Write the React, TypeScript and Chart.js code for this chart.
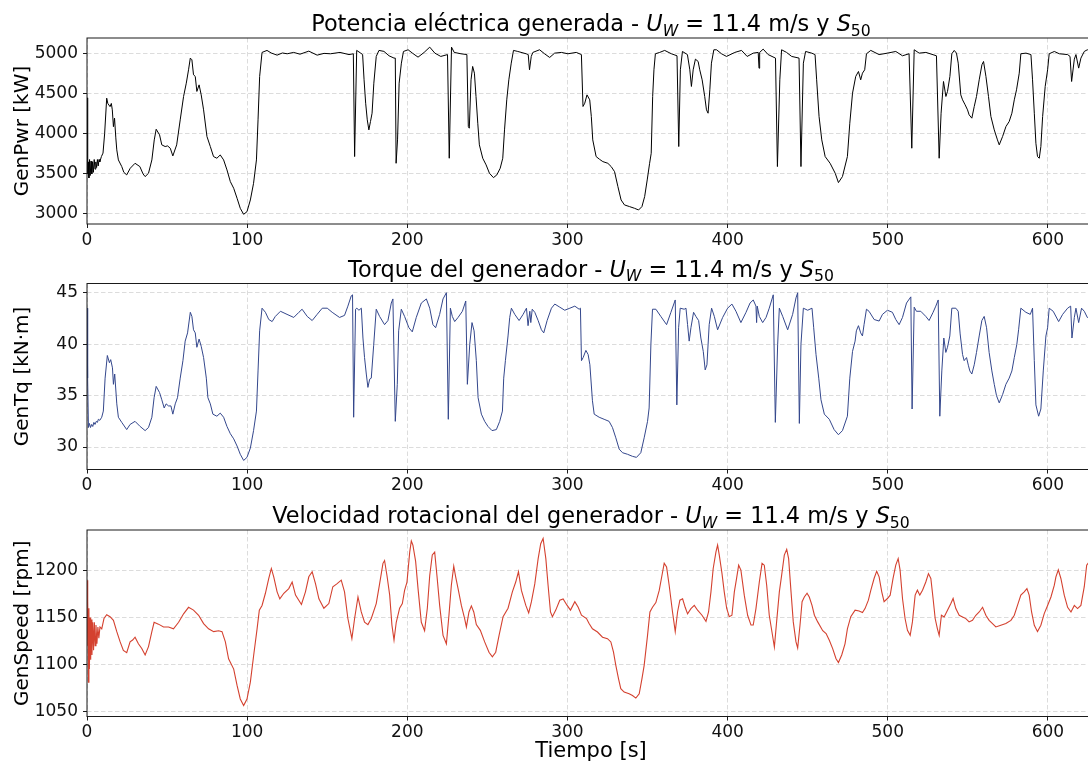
import React, { useEffect, useRef } from 'react';
import { Chart, registerables } from 'chart.js';

Chart.register(...registerables);

// ---------------- data ----------------
const xTicks = [0, 100, 200, 300, 400, 500, 600];
const powerTicks = [3000, 3500, 4000, 4500, 5000];
const torqueTicks = [30, 35, 40, 45];
const speedTicks = [1050, 1100, 1150, 1200];

const windLabel = ' = 11.4 m/s y ';
const powerTitle = 'Potencia eléctrica generada';
const torqueTitle = 'Torque del generador';
const speedTitle = 'Velocidad rotacional del generador';
const powerLabel = 'GenPwr [kW]';
const torqueLabel = 'GenTq [kN·m]';
const speedLabel = 'GenSpeed [rpm]';
const timeLabel = 'Tiempo [s]';

// [time s, power kW]
const powerSeries: [number, number][] = [
  [0, 4450], [0.4, 3500], [0.8, 3650], [1.2, 3450], [1.6, 3680], [2, 3480], [2.5, 3660], [3, 3500], [3.5, 3650], [4, 3520],
  [4.5, 3680], [5, 3560], [5.5, 3650], [6, 3580], [6.5, 3680], [7, 3600], [7.5, 3680], [8, 3650], [9, 3717], [10, 3760],
  [11, 4000], [12.3, 4446], [13, 4380], [14.4, 4340], [15.2, 4380], [15.8, 4300], [16.5, 4090], [17.2, 4196], [18, 3950], [18.6, 3800],
  [19.6, 3675], [21.7, 3592], [23, 3520], [24.8, 3488], [27, 3571], [30, 3633], [33, 3592], [35, 3500], [36.3, 3467], [38.4, 3508],
  [40.5, 3675], [42, 3925], [43.2, 4058], [45.3, 3988], [46.7, 3863], [48.8, 3842], [50.3, 3850], [52, 3821], [53.6, 3725], [56, 3863],
  [58.2, 4175], [60.3, 4467], [62, 4633], [63.4, 4800], [64.5, 4946], [65.5, 4925], [66.5, 4738], [67.6, 4717], [68.6, 4530], [70, 4612],
  [71.3, 4487], [72.8, 4300], [74.9, 3967], [77, 3842], [79, 3717], [81.1, 3696], [83.2, 3737], [85.3, 3675], [87.4, 3550], [89.5, 3404],
  [91.6, 3321], [93.7, 3196], [95.7, 3071], [97.8, 2996], [99.9, 3029], [102, 3175], [104, 3383], [105.8, 3675], [106.8, 4175], [107.8, 4717],
  [109.3, 5017], [112.4, 5042], [115, 5010], [118.7, 4983], [122, 5010], [125, 5000], [129, 5017], [133, 4995], [138.5, 5033], [143.7, 4983],
  [148, 5005], [152, 5000], [158, 5017], [163.6, 4990], [166.3, 5000], [167.1, 3717], [168.4, 5042], [170.9, 5008], [172.1, 4990], [173, 4675],
  [174, 4383], [175, 4175], [176, 4050], [177, 4154], [178, 4258], [179.1, 4633], [180.6, 4967], [182.3, 5042], [185.4, 5030], [188.6, 4975],
  [191.7, 4946], [192.5, 4946], [193, 3633], [193.9, 3925], [194.9, 4633], [196.3, 4883], [197.6, 5029], [200.5, 5050], [203.2, 5008], [206.7, 4958],
  [210.5, 5017], [214, 5083], [217.2, 5008], [220.9, 4967], [225.1, 4990], [226.2, 3696], [227.6, 5083], [229.3, 5017], [233.5, 5000], [237.2, 4990],
  [238.1, 4092], [238.7, 4071], [239.8, 4675], [240.8, 4842], [241.9, 4758], [242.9, 4467], [244, 4133], [245, 3863], [247.1, 3696], [249.2, 3613],
  [251.3, 3508], [253.8, 3454], [255.9, 3488], [258, 3571], [259.6, 3696], [260.7, 4050], [262.1, 4425], [263.4, 4675], [264.9, 4883], [266.3, 5042],
  [269, 5029], [274.2, 5000], [275.5, 4990], [276.3, 4800], [277.4, 4967], [278.4, 5017], [282.6, 5050], [285.7, 5000], [288.9, 4954], [292, 5008],
  [296.2, 5017], [300.3, 5000], [305.5, 5017], [308.7, 4990], [309.7, 4342], [310.8, 4383], [312.2, 4487], [313.9, 4425], [314.9, 4217], [315.8, 3925],
  [317.9, 3717], [320, 3683], [322.1, 3654], [325.2, 3633], [327.3, 3592], [329.4, 3529], [331.5, 3342], [333.5, 3175], [335.6, 3113], [338.8, 3092],
  [341.9, 3071], [344.4, 3050], [346.5, 3092], [348.2, 3217], [349.8, 3425], [351.3, 3633], [352.3, 3758], [353.2, 4467], [354, 4800], [354.9, 5000],
  [357.6, 5017], [360.7, 5042], [364.9, 5000], [368.4, 4975], [369.5, 3842], [370.5, 4800], [371.8, 5029], [374.9, 4990], [376.4, 4800], [377.4, 4592],
  [378.5, 4800], [379.9, 4933], [381.6, 4904], [382.6, 4800], [384.1, 4675], [385.7, 4467], [386.8, 4300], [387.8, 4258], [388.9, 4550], [389.9, 4883],
  [391.4, 5050], [393.1, 5050], [396.2, 5000], [399.3, 4967], [404.5, 5017], [408.7, 5042], [412.2, 4967], [416, 5008], [419.1, 5017], [419.6, 4820],
  [420, 5017], [422.2, 5058], [425.3, 4990], [429.9, 4946], [431.1, 3592], [432.6, 4675], [433.7, 5050], [436.8, 5017], [440, 4967], [444.6, 4946],
  [445.8, 3592], [447.3, 4883], [448.7, 5029], [452.5, 5008], [454.6, 4990], [455.6, 4675], [457.1, 4217], [458.8, 3925], [460.9, 3717], [464, 3633],
  [467.2, 3508], [469.2, 3392], [471.7, 3467], [474.8, 3717], [476.3, 4133], [478, 4508], [480, 4717], [481.7, 4779], [483.1, 4675], [484.2, 4758],
  [485.6, 4800], [486.7, 5000], [489.4, 5042], [494.6, 4990], [499.8, 5008], [505, 5029], [509.2, 4975], [513.3, 5000], [515, 3821], [516.5, 5050],
  [519.6, 5008], [523.8, 5017], [530.4, 4975], [532.1, 3696], [533.3, 4258], [534.8, 4654], [536.3, 4467], [537.3, 4529], [538.8, 4717], [540, 5000],
  [541.5, 5042], [542.9, 5008], [544, 4883], [545.6, 4487], [546.7, 4425], [548.3, 4363], [549.8, 4300], [550.8, 4238], [552.5, 4196], [554, 4342],
  [555.4, 4467], [557.1, 4675], [558.8, 4863], [559.8, 4904], [561.3, 4717], [562.9, 4467], [564.4, 4217], [566.5, 4050], [568.5, 3925], [569.6, 3863],
  [571.7, 3967], [573.8, 4092], [575.8, 4154], [577.5, 4258], [579, 4425], [580.4, 4550], [582.1, 4758], [583.1, 5000], [586.3, 5008], [589.4, 4990],
  [590.4, 4675], [591.5, 4258], [592.5, 3883], [593.5, 3717], [594.6, 3696], [595.6, 3842], [596.7, 4217], [598.3, 4592], [599.8, 4800], [600.8, 5000],
  [604, 5029], [607.1, 5000], [612.3, 4990], [613.8, 4967], [614.8, 4654], [616.5, 4933], [617.5, 4990], [619.2, 4821], [620.6, 4946], [622.7, 5029],
  [624.6, 5050], [627, 5030],
];

// [time s, torque kN·m]
const torqueSeries: [number, number][] = [
  [0, 43.5], [0.4, 36.7], [0.9, 31.9], [1.5, 32.3], [2.2, 31.9], [2.9, 32.2], [3.6, 32.0], [4.3, 32.4], [5, 32.2], [5.8, 32.5],
  [6.5, 32.4], [7.1, 32.7], [8, 32.6], [9.2, 32.9], [10.2, 33.5], [11.3, 36.7], [12.7, 38.9], [14, 38.2], [14.8, 38.5], [15.9, 37.7],
  [16.5, 36.1], [17.3, 37.1], [18.6, 34.2], [19.6, 32.9], [21.7, 32.4], [24.8, 31.7], [26.9, 32.2], [30, 32.5], [33.2, 32.0], [36.3, 31.6],
  [38.4, 31.9], [40.5, 32.9], [41.9, 34.8], [43.2, 35.9], [45.3, 35.3], [46.7, 34.6], [48.2, 33.8], [49.4, 34.2], [50.9, 34.0], [52.4, 34.0],
  [53.6, 33.2], [55.1, 34.2], [56.5, 34.8], [58.2, 36.7], [59.9, 38.4], [61.3, 40.3], [62.8, 41.1], [64.5, 43.1], [65.5, 42.7], [66.5, 41.4],
  [67.6, 41.1], [68.6, 39.7], [70, 40.5], [71.3, 39.8], [72.8, 38.7], [74.5, 36.7], [75.5, 34.8], [77, 34.2], [78.6, 33.2], [81.1, 33.0],
  [83.2, 33.3], [85.3, 32.9], [87.4, 32.0], [89.5, 31.3], [91.6, 30.8], [93.7, 30.1], [95.7, 29.3], [97.8, 28.7], [99.9, 29.0], [102, 29.9],
  [104, 31.6], [105.8, 33.5], [106.8, 37.4], [107.8, 41.3], [109.3, 43.5], [111.4, 43.1], [113.5, 42.4], [115.6, 42.2], [117.6, 42.7], [120.8, 43.2],
  [124.9, 42.9], [129.1, 42.6], [132.3, 43.1], [134.3, 43.4], [137.5, 42.7], [140.6, 42.3], [143.7, 42.9], [146.9, 43.5], [150, 43.5], [153.1, 43.1],
  [157.7, 42.6], [160.8, 42.8], [162.9, 43.7], [165, 44.7], [165.8, 44.8], [166.5, 32.9], [167.7, 43.4], [168.5, 43.5], [169.8, 43.3], [171.3, 43.5],
  [172.3, 40.6], [173.3, 38.7], [174.4, 37.1], [175.4, 35.8], [176.5, 36.6], [177.5, 36.7], [179, 39.9], [180.6, 43.4], [182.7, 42.7], [185.8, 41.9],
  [187.9, 42.3], [190, 44.0], [191, 44.4], [192.5, 32.5], [193.75, 36.1], [194.6, 41.3], [196.25, 43.4], [198.3, 42.7], [201, 41.6], [203.1, 41.2],
  [205.6, 42.6], [208.75, 44.0], [211.9, 44.4], [214, 43.5], [216, 41.9], [217.7, 41.6], [220.2, 42.9], [222.3, 44.4], [224.4, 45.0], [225.6, 32.7],
  [226.9, 43.5], [228.1, 42.7], [229.6, 42.2], [231.7, 42.6], [234.4, 43.2], [236.5, 44.2], [237.5, 36.1], [239, 40.0], [240.4, 42.1], [241.7, 41.3],
  [243.1, 38.4], [244.2, 34.8], [246.25, 33.2], [248.3, 32.5], [250.4, 32.0], [252.9, 31.6], [255.6, 31.7], [257.7, 32.5], [259.4, 33.5], [260.2, 36.7],
  [261.25, 38.4], [262.9, 40.8], [263.95, 42.6], [265, 43.5], [267.1, 42.9], [269.8, 42.3], [272.3, 42.9], [274.4, 43.5], [275.4, 41.8], [276.5, 43.2],
  [277.1, 42.1], [278, 43.4], [279.6, 43.1], [281.7, 42.3], [283.75, 41.4], [285.2, 41.1], [287.3, 42.3], [290, 43.5], [292.1, 43.9], [295.2, 43.6],
  [298.3, 43.3], [301.5, 43.5], [304.6, 43.7], [307.3, 43.4], [308.1, 43.5], [308.75, 38.4], [309.8, 38.7], [311.5, 39.4], [312.9, 39.0], [314, 38.0],
  [315.6, 34.5], [316.7, 33.2], [319.8, 32.9], [322.9, 32.7], [326, 32.5], [328.1, 31.9], [330.2, 30.9], [332.3, 29.8], [334.4, 29.45], [337.5, 29.3],
  [340.6, 29.1], [343.1, 29.0], [345.8, 29.45], [347.9, 30.9], [350, 32.5], [351, 33.8], [352.1, 40.0], [353.1, 43.4], [355.2, 43.4], [358.3, 42.7],
  [361.9, 41.9], [364.6, 43.1], [367.3, 44.3], [368.3, 34.1], [369.4, 41.6], [370.4, 43.5], [372.9, 43.4], [374, 43.5], [375, 41.9], [376, 40.3],
  [377.1, 41.6], [378.75, 43.1], [380.2, 42.7], [381.9, 42.3], [383.3, 40.6], [384.8, 39.3], [386, 37.5], [387.1, 38.0], [388.5, 41.9], [390, 43.5],
  [391.7, 42.7], [393.75, 41.4], [396.9, 42.6], [400, 43.5], [402.7, 43.9], [405.2, 43.2], [408.3, 42.1], [411.5, 43.1], [414, 44.0], [416, 44.3],
  [417.7, 43.7], [418.1, 42.1], [418.5, 43.7], [419.8, 42.7], [421.9, 42.1], [424, 42.6], [426, 43.5], [428.5, 44.8], [429.8, 32.4], [431.25, 40.0],
  [432.3, 43.5], [434.4, 42.7], [437.5, 41.4], [440.6, 42.9], [442.7, 44.5], [443.75, 45.0], [444.8, 32.3], [445.8, 40.0], [447.3, 43.5], [450, 43.3],
  [452.7, 43.5], [453.75, 41.6], [455.2, 39.0], [456.9, 36.7], [458.3, 34.6], [460.4, 33.2], [463.5, 32.7], [466.5, 31.7], [469.2, 31.2], [471.7, 31.6],
  [474.8, 33.0], [476.3, 36.7], [478, 39.3], [479.6, 40.3], [480.4, 41.3], [481.7, 41.8], [483.1, 41.1], [484.2, 40.8], [485.2, 41.9], [486.7, 43.4],
  [488.3, 43.2], [491.5, 42.4], [494.6, 42.25], [496.7, 42.9], [499.8, 43.3], [502.9, 43.1], [505, 42.4], [507.1, 41.9], [509.2, 42.6], [511.7, 44.0],
  [514.4, 44.6], [515.2, 33.7], [516.5, 43.6], [517.9, 43.2], [520.6, 43.2], [523.75, 42.7], [525.8, 42.3], [528.3, 43.1], [530, 43.7], [531.5, 44.3],
  [532.5, 33.0], [533.75, 37.4], [535, 40.6], [536.25, 39.2], [537.3, 39.7], [538.75, 40.8], [540, 43.5], [542.5, 43.5], [544, 43.2], [545.2, 41.0],
  [546.7, 39.0], [547.7, 38.4], [549.2, 38.7], [550.4, 37.9], [551.25, 37.4], [552.5, 37.1], [554, 38.0], [555.4, 39.2], [557.1, 40.8], [558.75, 42.3],
  [560.2, 42.7], [561.7, 41.6], [563.3, 39.2], [565, 37.4], [566.5, 36.1], [567.9, 35.0], [569.6, 34.3], [571.7, 35.1], [573.75, 36.1], [575.8, 36.7],
  [577.5, 37.4], [579, 38.7], [580.6, 40.0], [581.7, 41.4], [583.1, 43.5], [586.25, 43.1], [589, 42.9], [590.4, 43.5], [591.5, 38.4], [592.5, 34.1],
  [594.2, 33.0], [595.6, 33.7], [597.1, 37.4], [598.75, 40.8], [599.8, 41.6], [600.8, 43.5], [603.3, 43.2], [606.7, 42.2], [609.2, 42.9], [612.3, 43.5],
  [614.2, 43.7], [615, 40.6], [616.5, 42.6], [617.5, 43.5], [619.2, 42.1], [621, 43.5], [622.7, 43.2], [624.6, 42.6], [627, 42.5],
];

// [time s, speed rpm]
const speedSeries: [number, number][] = [
  [0, 1190], [0.3, 1120], [0.6, 1170], [0.9, 1081], [1.2, 1160], [1.5, 1095], [1.9, 1150], [2.3, 1105], [2.7, 1148], [3.1, 1110],
  [3.6, 1145], [4.1, 1115], [4.6, 1145], [5.1, 1120], [5.6, 1142], [6.2, 1122], [6.8, 1140], [7.4, 1128], [8.1, 1140], [9.2, 1138],
  [10.6, 1149], [12.3, 1153], [14.4, 1151], [16.5, 1147], [18.6, 1135], [20.7, 1124], [22.7, 1115], [24.8, 1112.5], [26.9, 1124], [28.5, 1126],
  [30, 1129], [32.1, 1122], [34.2, 1117], [36.3, 1110], [38.4, 1119], [40.5, 1135], [41.9, 1145], [44.6, 1143], [47.8, 1140], [50.9, 1140],
  [54, 1138], [57.2, 1145], [60.3, 1154], [63.4, 1161], [66.5, 1158], [69.7, 1152.5], [72.8, 1143.6], [75.9, 1138], [79.1, 1135], [82.2, 1136],
  [84.3, 1135], [86.4, 1124], [88.4, 1106], [91.6, 1095], [93.7, 1077.5], [95.7, 1063], [97.8, 1056], [99.9, 1063], [102, 1081], [104.1, 1110],
  [106.2, 1138], [107.6, 1158], [109.3, 1163], [111.4, 1176], [113.5, 1192], [115.1, 1202.5], [116.6, 1193.6], [118.7, 1177.5], [120.4, 1170], [122.9, 1176],
  [126, 1181], [128.1, 1188], [130.2, 1174], [133.9, 1164], [136.4, 1177.5], [138.5, 1193.6], [140.6, 1199], [142.7, 1186], [144.8, 1170], [147.9, 1160],
  [151, 1165], [153.5, 1183], [156, 1186], [158.75, 1190], [160.8, 1177.5], [162.9, 1149], [165.4, 1127.5], [167.1, 1149], [169.2, 1172], [171.25, 1156],
  [173.3, 1145], [175.4, 1142.5], [177.5, 1149], [180.6, 1165], [182.7, 1186], [184.8, 1208], [185.8, 1211], [187.3, 1195], [189, 1174], [190.4, 1142],
  [191.7, 1126], [193.1, 1145], [195.2, 1160], [196.9, 1165], [198.3, 1179], [199.8, 1188], [201.5, 1220], [202.5, 1232], [203.5, 1227.5], [205.2, 1210],
  [206.7, 1181], [208.75, 1145], [210.8, 1136], [212.5, 1160], [214, 1195], [215.6, 1217], [217.1, 1220], [218.5, 1195], [220.2, 1163], [222.3, 1131],
  [224.4, 1122], [226, 1152.5], [227.5, 1184.6], [229, 1205], [230.2, 1193.6], [231.7, 1181], [233.75, 1163], [235.8, 1149], [236.9, 1140], [238.5, 1156],
  [240, 1162.5], [241.5, 1156], [243.1, 1142.5], [245.6, 1136.4], [248.3, 1124], [251, 1113], [253.1, 1108], [255.2, 1113], [257.3, 1131], [259.8, 1151],
  [262.9, 1160], [265.6, 1177.5], [267.7, 1188], [269.4, 1199], [271.25, 1179], [274, 1163], [275.8, 1155], [277.5, 1167], [279.6, 1186], [281.7, 1213],
  [283.3, 1229], [284.8, 1234.6], [286.5, 1213], [287.9, 1184.6], [289.4, 1156], [290.6, 1151], [292.7, 1158], [295.2, 1168.6], [297.3, 1170], [299.8, 1163],
  [301.9, 1158], [304.6, 1167], [306.7, 1161], [308.75, 1152.5], [311.9, 1149], [313.5, 1143.6], [315.6, 1138], [318.75, 1134.6], [321.9, 1129], [325, 1127.5],
  [327.1, 1124], [328.75, 1113], [330.2, 1099], [331.9, 1084.6], [333.3, 1074], [335.4, 1070.4], [338.5, 1068.6], [340.6, 1066.8], [342.7, 1064], [344.8, 1068.6],
  [346.5, 1084.6], [347.9, 1099], [350, 1131], [351.5, 1156], [353.1, 1161], [355.2, 1166], [357.3, 1179], [359, 1195], [360.4, 1208], [361.9, 1204],
  [363.5, 1184.6], [365.6, 1156], [367.3, 1135], [368.75, 1156], [370.2, 1168.6], [371.9, 1170], [373.5, 1161], [375, 1154], [377.1, 1159.6], [379.2, 1163],
  [381.25, 1157.9], [384, 1152.5], [386.5, 1146], [388.1, 1156], [389.6, 1177.5], [391, 1202.5], [392.7, 1220], [393.75, 1227.5], [394.8, 1216.8], [396.5, 1197],
  [397.9, 1177.5], [399.4, 1160], [401, 1151], [402.7, 1152.5], [404.2, 1177.5], [405.6, 1192], [406.9, 1206], [408.3, 1200.7], [410.4, 1174], [412.5, 1152.5],
  [414.6, 1142], [416, 1142], [417.7, 1159.6], [419.8, 1188], [421.5, 1208], [422.9, 1206], [424.4, 1184.6], [426, 1152.5], [427.7, 1134.6], [429.2, 1118.6],
  [430.6, 1145.4], [432.3, 1177.5], [433.75, 1195.4], [435.4, 1216.8], [436.9, 1223], [438.1, 1213], [439.6, 1177.5], [441, 1145.4], [442.7, 1124], [443.75, 1117.5],
  [445.2, 1141.8], [446.5, 1167], [447.9, 1172], [449.6, 1176], [451, 1172], [452.7, 1163], [454.2, 1152.5], [456.25, 1145.4], [459.4, 1136], [461.5, 1132.9],
  [463.5, 1125.7], [465.6, 1116.8], [467.7, 1106], [469.2, 1102], [471.25, 1110], [473.3, 1122], [474.8, 1138], [476.9, 1151], [479.6, 1158], [482.1, 1157],
  [484.2, 1155.4], [485.8, 1159.6], [487.9, 1168.6], [489.4, 1179], [491.5, 1192], [493.1, 1199.6], [494.6, 1193.6], [496.25, 1177.5], [497.7, 1167], [499.8, 1170.4],
  [501.5, 1173.9], [503.3, 1191.8], [505, 1206], [506.5, 1213], [507.7, 1200.7], [509.2, 1170.4], [510.8, 1149], [512.3, 1136.4], [514, 1131], [515.4, 1145.4],
  [517.1, 1174], [518.5, 1179.3], [520, 1174], [521.7, 1179.3], [523.75, 1188], [525.4, 1197], [526.9, 1191.8], [528.3, 1170.4], [529.6, 1149], [531, 1138],
  [532.1, 1131], [533.5, 1152.5], [535.2, 1150.7], [537.3, 1157.9], [539.4, 1165], [540.8, 1170.4], [542.5, 1159.6], [544.6, 1152.5], [546.7, 1150.7], [548.75, 1148.9],
  [550.8, 1145.4], [552.9, 1147.1], [555, 1152.5], [557.1, 1156], [559.2, 1161], [561.25, 1152.5], [563.3, 1147], [565.4, 1143.6], [567.5, 1140], [570.6, 1141.8],
  [573.75, 1143.6], [576.9, 1147], [579, 1152.5], [581, 1163], [583.1, 1174], [585.2, 1177.5], [586.9, 1181], [588.3, 1174], [589.8, 1156], [591.5, 1141.8],
  [593.5, 1135], [595.6, 1141.8], [597.7, 1154.3], [599.8, 1163], [601.9, 1172], [604, 1184.6], [605, 1193.6], [606.5, 1201], [608.1, 1191.8], [610.2, 1174],
  [612.3, 1161], [614.4, 1156], [616.5, 1163], [618.5, 1159.6], [620.6, 1163], [622.7, 1183], [624.2, 1206], [626, 1210],
];

// ---------------- rendering ----------------
const FONT = '"DejaVu Sans", "Liberation Sans", sans-serif';
const X_MAX = 629.4;

type Run = { t: string; it?: boolean; sub?: boolean };
const titleRuns = (name: string): Run[] => [
  { t: name + ' - ' },
  { t: 'U', it: true },
  { t: 'W', it: true, sub: true },
  { t: windLabel },
  { t: 'S', it: true },
  { t: '50', sub: true },
];

type Panel = {
  title: string;
  ylabel: string;
  series: [number, number][];
  color: string;
  width: number;
  yTicks: number[];
  ymin: number;
  ymax: number;
  top: number;
  height: number;
  areaTop: number;
  areaBottom: number;
  xTitle: boolean;
};

const PANELS: Panel[] = [
  { title: powerTitle, ylabel: powerLabel, series: powerSeries, color: '#000000', width: 1, yTicks: powerTicks, ymin: 2875, ymax: 5197, top: 0, height: 250, areaTop: 38, areaBottom: 224, xTitle: false },
  { title: torqueTitle, ylabel: torqueLabel, series: torqueSeries, color: '#34478c', width: 1, yTicks: torqueTicks, ymin: 27.82, ymax: 45.9, top: 250, height: 245, areaTop: 33.5, areaBottom: 219.5, xTitle: false },
  { title: speedTitle, ylabel: speedLabel, series: speedSeries, color: '#d4412f', width: 1.1, yTicks: speedTicks, ymin: 1044.3, ymax: 1243.6, top: 495, height: 268, areaTop: 35, areaBottom: 221.5, xTitle: true },
];

const CANVAS_W = 1100;

function makeTitlePlugin(runs: Run[]) {
  return {
    id: 'mathTitle',
    afterDraw(chart: any) {
      const { ctx, chartArea } = chart;
      const size = 22.4;
      const subSize = size * 0.7;
      const fontOf = (r: Run) => `${r.it ? 'italic ' : ''}${r.sub ? subSize : size}px ${FONT}`;
      ctx.save();
      let total = 0;
      const widths = runs.map((r) => {
        ctx.font = fontOf(r);
        const w = ctx.measureText(r.t).width;
        total += w;
        return w;
      });
      let x = (chartArea.left + chartArea.right) / 2 - total / 2;
      const base = chartArea.top - 7;
      ctx.fillStyle = '#000';
      ctx.textBaseline = 'alphabetic';
      ctx.textAlign = 'left';
      runs.forEach((r, i) => {
        ctx.font = fontOf(r);
        ctx.fillText(r.t, x, r.sub ? base + size * 0.22 : base);
        x += widths[i];
      });
      ctx.restore();
    },
  };
}

const framePlugin = {
  id: 'frame',
  afterDraw(chart: any) {
    const { ctx, chartArea } = chart;
    ctx.save();
    ctx.strokeStyle = '#1a1a1a';
    ctx.lineWidth = 1;
    ctx.strokeRect(chartArea.left, chartArea.top, chartArea.right - chartArea.left, chartArea.bottom - chartArea.top);
    ctx.restore();
  },
};

function PanelChart({ p }: { p: Panel }) {
  const ref = useRef<HTMLCanvasElement | null>(null);
  useEffect(() => {
    if (!ref.current) return;
    const xH = p.height - p.areaBottom;
    const chart = new Chart(ref.current, {
      type: 'line',
      data: {
        datasets: [
          {
            data: p.series.map(([x, y]) => ({ x, y })),
            borderColor: p.color,
            borderWidth: p.width,
            pointRadius: 0,
            tension: 0,
            fill: false,
          },
        ],
      },
      options: {
        responsive: false,
        animation: false,
        events: [],
        layout: { padding: { top: p.areaTop, left: 0, right: 5, bottom: 0 } },
        plugins: { legend: { display: false }, tooltip: { enabled: false }, title: { display: false } },
        scales: {
          x: {
            type: 'linear',
            min: 0,
            max: X_MAX,
            afterBuildTicks: (s: any) => {
              s.ticks = xTicks.map((v) => ({ value: v }));
            },
            afterFit: (s: any) => {
              s.height = xH;
            },
            ticks: {
              font: { family: FONT, size: 17 },
              color: '#111',
              padding: 2,
              maxRotation: 0,
              autoSkip: false,
              callback: (v: any) => String(v),
            },
            grid: { color: '#dcdcdc', lineWidth: 1, tickLength: 4, tickColor: '#1a1a1a', tickWidth: 1 },
            border: { display: false, dash: [4.5, 2.5] },
            title: {
              display: p.xTitle,
              text: timeLabel,
              font: { family: FONT, size: 21 },
              color: '#000',
              padding: { top: 0, bottom: -1 },
            },
          },
          y: {
            type: 'linear',
            min: p.ymin,
            max: p.ymax,
            afterBuildTicks: (s: any) => {
              s.ticks = p.yTicks.map((v) => ({ value: v }));
            },
            afterFit: (s: any) => {
              s.width = 87;
            },
            ticks: {
              font: { family: FONT, size: 17 },
              color: '#111',
              padding: 5,
              autoSkip: false,
              callback: (v: any) => String(v),
            },
            grid: { color: '#dcdcdc', lineWidth: 1, tickLength: 4, tickColor: '#1a1a1a', tickWidth: 1 },
            border: { display: false, dash: [4.5, 2.5] },
            title: {
              display: true,
              text: p.ylabel,
              font: { family: FONT, size: 20 },
              color: '#000',
              padding: { top: 11, bottom: 0 },
            },
          },
        },
      },
      plugins: [makeTitlePlugin(titleRuns(p.title)), framePlugin],
    } as any);
    return () => chart.destroy();
  }, [p]);
  return (
    <canvas
      ref={ref}
      width={CANVAS_W}
      height={p.height}
      style={{ position: 'absolute', left: 0, top: p.top, width: CANVAS_W, height: p.height }}
    />
  );
}

export default function App() {
  return (
    <div
      style={{
        position: 'fixed',
        left: 0,
        top: 0,
        width: 1088,
        height: 763,
        overflow: 'hidden',
        background: '#ffffff',
      }}
    >
      {PANELS.map((p, i) => (
        <PanelChart key={i} p={p} />
      ))}
    </div>
  );
}
